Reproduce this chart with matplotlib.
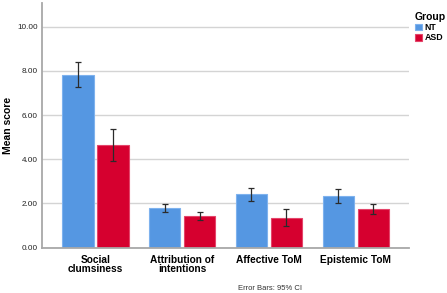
import matplotlib.pyplot as plt
import numpy as np

plt.rcParams['font.family'] = ['Liberation Sans', 'DejaVu Sans']

# data
categories = ["Social\nclumsiness", "Attribution of\nintentions", "Affective ToM", "Epistemic ToM"]
nt_mean = [7.83, 1.78, 2.41, 2.33]
nt_low = [7.27, 1.60, 2.13, 2.02]
nt_high = [8.42, 1.96, 2.71, 2.64]
asd_mean = [4.63, 1.42, 1.36, 1.75]
asd_low = [3.94, 1.24, 1.00, 1.51]
asd_high = [5.37, 1.62, 1.74, 1.98]
yticks = [0, 2, 4, 6, 8, 10]

x = np.arange(len(categories))
w = 0.358
off = 0.202

fig = plt.figure(figsize=(4.47, 2.93), dpi=100)
ax = fig.add_axes([0.094, 0.1546, 0.821, 0.8354])

def yerr(mean, low, high):
    m = np.array(mean)
    return [m - np.array(low), np.array(high) - m]

ax.bar(x - off, nt_mean, w, color='#5597e2', edgecolor='#7eb2ee', linewidth=0.8, label='NT', zorder=2)
ax.bar(x + off, asd_mean, w, color='#d6002f', edgecolor='#e4456a', linewidth=0.8, label='ASD', zorder=2)
ax.errorbar(x - off, nt_mean, yerr=yerr(nt_mean, nt_low, nt_high), fmt='none',
            ecolor='#2b2b2b', elinewidth=0.9, capsize=2.4, capthick=0.9, zorder=3)
ax.errorbar(x + off, asd_mean, yerr=yerr(asd_mean, asd_low, asd_high), fmt='none',
            ecolor='#2b2b2b', elinewidth=0.9, capsize=2.4, capthick=0.9, zorder=3)

ax.set_xlim(-0.617, 3.617)
ax.set_ylim(0, 11.07)
ax.set_yticks(yticks)
ax.set_yticklabels(["%.2f" % t for t in yticks], fontsize=5.9, color='#222222')
ax.set_xticks(x)
ax.set_xticklabels(categories, fontsize=7.3, fontweight='bold', linespacing=0.95)
ax.tick_params(length=0, pad=3)
ax.tick_params(axis='x', pad=5)
ax.yaxis.grid(True, color='#d4d4d4', linewidth=1.0, zorder=0)
ax.set_axisbelow(True)
for s in ['top', 'right']:
    ax.spines[s].set_visible(False)
ax.spines['left'].set_color('#a8a8a8')
ax.spines['left'].set_linewidth(1.3)
ax.spines['bottom'].set_color('#a8a8a8')
ax.spines['bottom'].set_linewidth(1.3)
ax.set_ylabel("Mean score", fontsize=7.5, fontweight='bold')
ax.yaxis.set_label_coords(-0.078, 0.5)

leg = fig.legend(loc='upper left', bbox_to_anchor=(0.918, 0.975), frameon=False,
                 title='Group', fontsize=6.3, handlelength=0.8, handleheight=0.8,
                 handletextpad=0.3, borderpad=0, labelspacing=0.15, alignment='left',
                 title_fontproperties={'weight': 'bold', 'size': 7.5})
for t in leg.get_texts():
    t.set_fontweight('bold')

fig.text(270 / 447, 1 - 288 / 293, "Error Bars: 95% CI", fontsize=5.5, ha='center', va='center', color='#333333')

fig.savefig('out.png', dpi=100)
